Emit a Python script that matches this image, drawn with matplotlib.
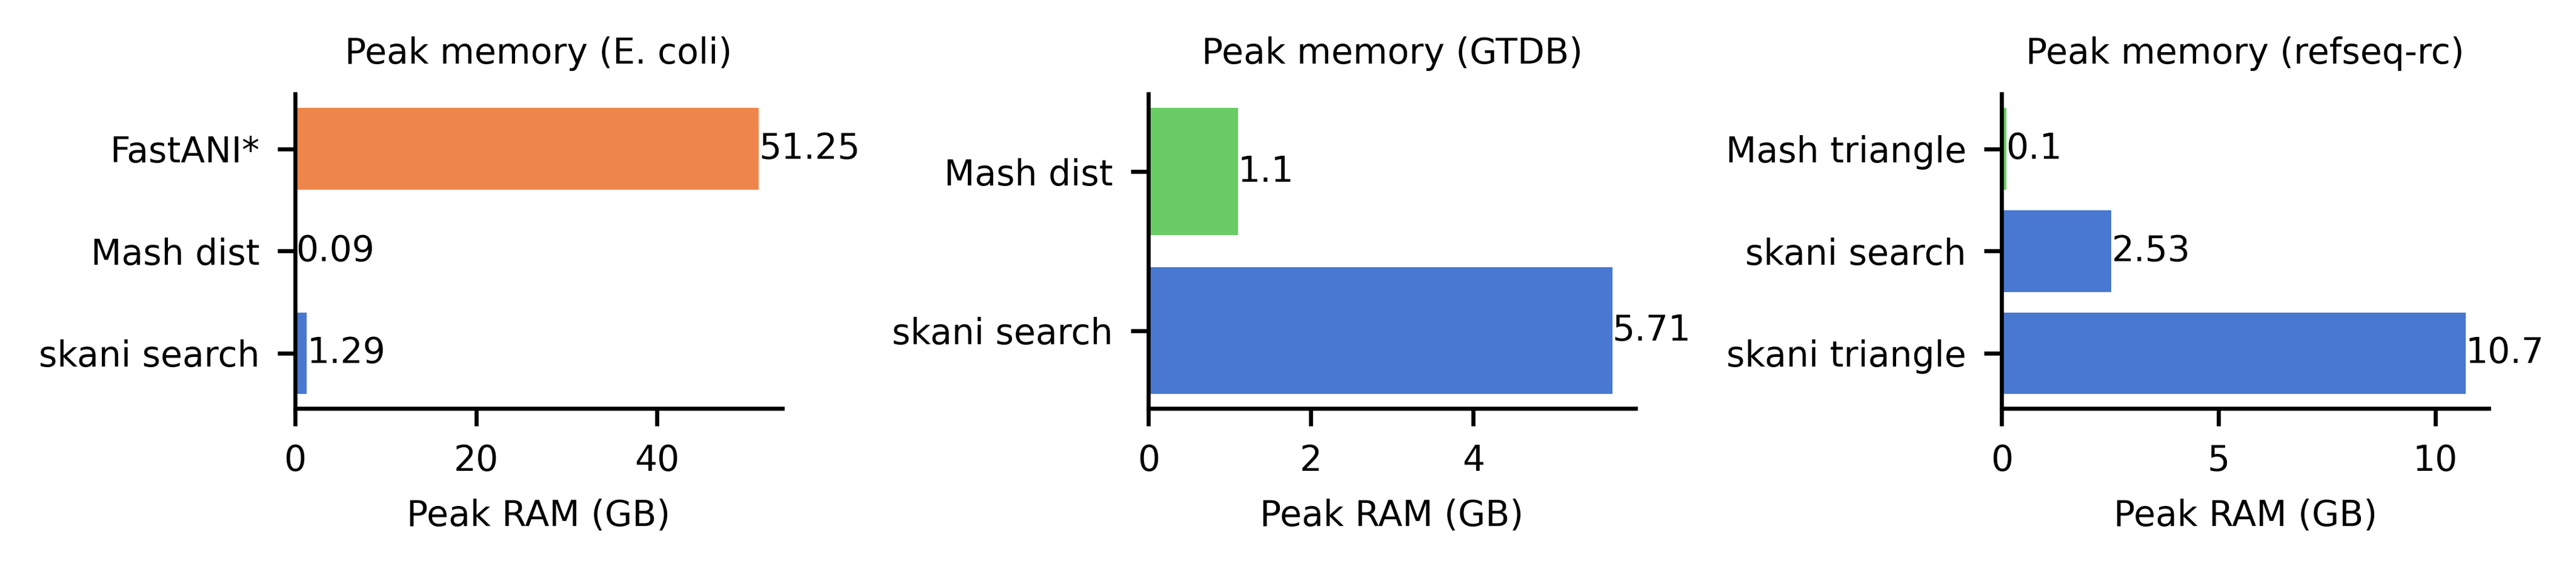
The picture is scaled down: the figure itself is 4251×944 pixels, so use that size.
"""Peak memory comparison: three horizontal bar panels (E. coli, GTDB, refseq-rc)."""

import matplotlib
matplotlib.use("Agg")
import matplotlib.pyplot as plt

BLUE = "#4878d0"
ORANGE = "#ee854a"
GREEN = "#6acc64"

# E. coli
ecoli_tools = ["skani search", "Mash dist", "FastANI*"]
ecoli_ram = [1.29, 0.09, 51.25]
ecoli_colors = [BLUE, GREEN, ORANGE]

# GTDB
gtdb_tools = ["skani search", "Mash dist"]
gtdb_ram = [5.71, 1.1]
gtdb_colors = [BLUE, GREEN]

# refseq-rc
refseq_tools = ["skani triangle", "skani search", "Mash triangle"]
refseq_ram = [10.7, 2.53, 0.1]
refseq_colors = [BLUE, BLUE, GREEN]

titles = ["Peak memory (E. coli)", "Peak memory (GTDB)", "Peak memory (refseq-rc)"]
panels = [
    (ecoli_tools, ecoli_ram, ecoli_colors),
    (gtdb_tools, gtdb_ram, gtdb_colors),
    (refseq_tools, refseq_ram, refseq_colors),
]

FS = 7.0
plt.rcParams["font.family"] = "DejaVu Sans"
plt.rcParams["font.size"] = FS

dpi = 600
fig, axes = plt.subplots(1, 3, figsize=(4251 / dpi, 944 / dpi))
fig.subplots_adjust(left=0.1146, right=0.9661, bottom=0.286, top=0.836, wspace=0.7525)

for ax, title, (tools, ram, colors) in zip(axes, titles, panels):
    bars = ax.barh(tools, ram, height=0.8, color=colors)
    ax.bar_label(bars, fontsize=FS)
    ax.set_xlim(left=0)
    ax.set_title(title, fontsize=FS)
    ax.set_xlabel("Peak RAM (GB)", fontsize=FS)
    ax.tick_params(labelsize=FS)
    ax.spines["top"].set_visible(False)
    ax.spines["right"].set_visible(False)

axes[2].set_xticks([0, 5, 10])

fig.savefig("out.png", dpi=dpi)
plt.close(fig)
